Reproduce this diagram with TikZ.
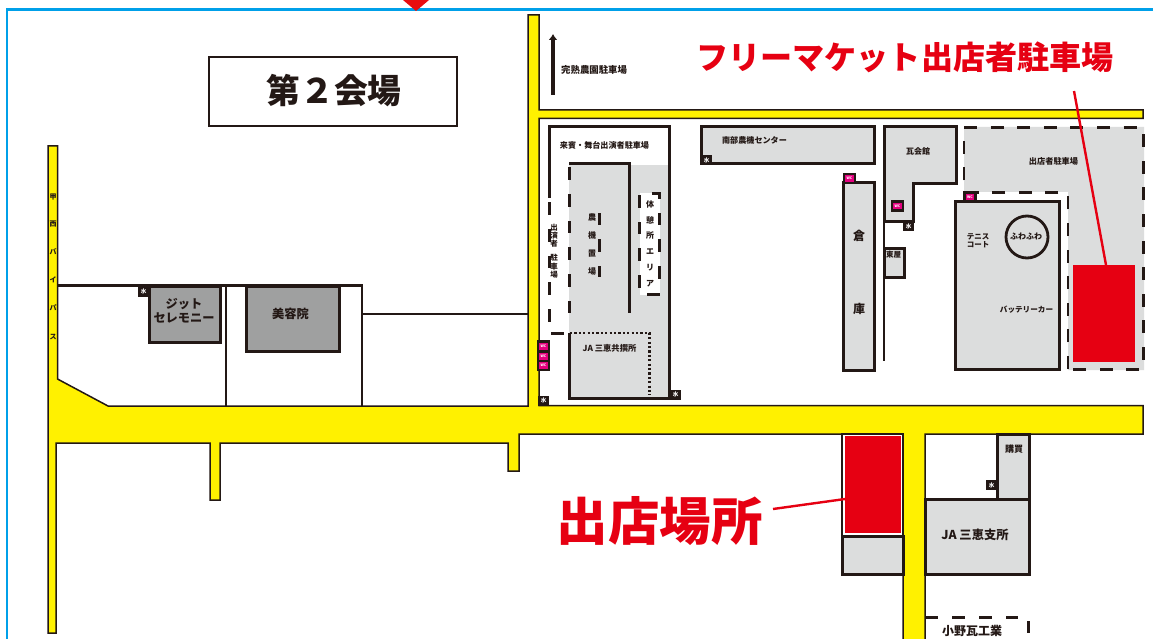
\documentclass[tikz,border=0pt]{standalone}
\usepackage{fontspec}
\usetikzlibrary{arrows.meta}
\setmainfont{Noto Sans CJK JP}
\definecolor{ink}{HTML}{231815}
\definecolor{road}{HTML}{FFF100}
\definecolor{bgray}{HTML}{DCDDDD}
\definecolor{dgray}{HTML}{9FA0A0}
\definecolor{mapred}{HTML}{E60012}
\definecolor{frameblue}{HTML}{00A0E9}
\definecolor{wcpink}{HTML}{E4007F}
\newcommand{\fs}[1]{\fontsize{#1}{#1}\selectfont\bfseries}
\tikzset{
  x=1pt,y=-1pt,
  wall/.style={draw=ink,line width=3pt,line cap=butt,line join=miter},
  thin wall/.style={draw=ink,line width=2.4pt},
  bld/.style={wall,fill=bgray},
  dbld/.style={wall,fill=dgray},
  roadway/.style={draw=ink,line width=1.5pt,fill=road,line join=miter},
  dashwall/.style={draw=ink,line width=2.8pt,dash pattern=on 13pt off 13.6pt},
  lbl/.style={inner sep=0pt,text=ink,align=center},
  mizubox/.style={fill=ink,inner sep=0pt,minimum width=11pt,minimum height=10pt,text=white,font=\fs{5.5}},
  wcbox/.style={fill=wcpink,draw=ink,line width=2.2pt,inner sep=0pt,minimum width=11pt,minimum height=9pt,text=white,font=\fs{3.5}},
}
\begin{document}
\begin{tikzpicture}
\useasboundingbox (0,0) rectangle (1153,639);
\fill[white] (0,0) rectangle (1153,639);
% frame
\draw[frameblue,line width=2.6pt] (7,639) -- (7,9.5) -- (1153,9.5);
\fill[mapred!90!orange] (403,0) -- (429,0) -- (416,11) -- cycle;
% gray grounds
\fill[bgray] (569,165) rectangle (668.5,398);
\path[fill=bgray] (964,127) -- (1144,127) -- (1144,370) -- (1068,370) -- (1068,192) -- (964,192) -- cycle;
% road
\path[roadway] (48,146) -- (57.5,146) -- (57.5,379) -- (108,406) -- (528,406) -- (528,15) -- (539,15) -- (539,110) -- (1143,110) -- (1143,118.5) -- (539,118.5) -- (539,405.5) -- (1143,405.5) -- (1143,434) -- (925,434) -- (925,640) -- (903,640) -- (903,434) -- (519,434) -- (519,471) -- (508,471) -- (508,443) -- (220,443) -- (220,500) -- (210,500) -- (210,443) -- (56,443) -- (56,633) -- (48,633) -- cycle;
% fences at left
\draw[thin wall] (57.5,285.5) -- (361.7,285.5) -- (361.7,406);
\draw[thin wall] (225.7,285.5) -- (225.7,406);
\draw[thin wall] (361.7,313.7) -- (528,313.7);
% buildings left
\path[dbld] (149,286) rectangle (220.5,342);
\path[dbld] (246.7,286) rectangle (339.3,351);
\node[lbl,font=\fs{12.2}] (jit) at (184,311) {ジット\\[2pt]セレモニー};
\node[lbl,font=\fs{12.2}] (biyo) at (290.5,314) {美容院};
\foreach \t/\y [count=\i] in {甲/197,西/224,バ/252,イ/280,パ/308,ス/337}
  \node[lbl,font=\fs{7}] (kosai\i) at (53,\y) {\t};
% title
\path[draw=ink,line width=2.8pt] (209,57) rectangle (457,126);
\node[lbl,font=\fs{33.8}] (title) at (334,91) {第２会場};
% upward arrow
\coordinate (arrowS) at (553,95);
\coordinate (arrowN) at (553,34);
\draw[ink,line width=3.6pt,-{Latex[length=6pt,width=9pt]}] (arrowS) -- (arrowN);
\node[lbl,font=\fs{9.4},anchor=west] (kanjuku) at (561,69.5) {完熟農園駐車場};
% JA parking block
\draw[wall] (549,198) -- (549,127) -- (669,127) -- (669,398) -- (569,398) -- (569,333);
\draw[wall] (569,164) -- (629,164) -- (629,313);
\foreach \a/\b in {202/215,229/242,256/268,282/295,309/322}
  \draw[wall] (549,\a) -- (549,\b);
\draw[wall] (551,333) -- (564,333);
\foreach \a/\b in {167/180,194/207,221/233,247/260,274/287,301/313}
  \draw[wall] (569.5,\a) -- (569.5,\b);
\draw[ink,line width=2.4pt,dash pattern=on 2.2pt off 2.2pt] (570,333) -- (649.5,333) -- (649.5,395);
\fill[white] (640,193) rectangle (660,295);
\foreach \a/\b in {195/208,222/234,248/261,275/288}
  \draw[wall] (639.5,\a) -- (639.5,\b);
\foreach \a/\b in {213/225,239/252,266/279}
  \draw[wall] (659.5,\a) -- (659.5,\b);
\draw[wall] (652,193.5) -- (659.5,193.5) -- (659.5,199);
\draw[wall] (647,294.5) -- (660,294.5);
\foreach \a/\b in {213/225,239/252,266/277}
  \draw[wall] (599.5,\a) -- (599.5,\b);
\node[lbl,font=\fs{8.1}] (raihin) at (604.5,145) {来賓・舞台出演者駐車場};
\foreach \t/\y [count=\i] in {農/217,機/235,置/254,場/272}
  \node[lbl,font=\fs{8}] (noki\i) at (592,\y) {\t};
\foreach \t/\y [count=\i] in {体/204,憩/220,所/236,エ/252,リ/268,ア/284}
  \node[lbl,font=\fs{8}] (kyu\i) at (650,\y) {\t};
\foreach \t/\y [count=\i] in {出/228,演/236,者/244,駐/258,車/267,場/275}
  \node[lbl,font=\fs{7.5}] (en\i) at (554,\y) {\t};
\node[lbl,font=\fs{8.3}] (jakyo) at (609.5,348) {JA 三恵共撰所};
% WC stack
\fill[ink] (537,340) rectangle (550,371);
\foreach \y [count=\i] in {346,356,365}
  \node[fill=wcpink,inner sep=0pt,minimum width=9pt,minimum height=7pt,text=white,font=\fs{3.5}] (wcs\i) at (543.5,\y) {WC};
\node[mizubox] (m1) at (543.5,400.5) {水};
\node[mizubox] (m2) at (675.5,394.5) {水};
% center buildings
\path[bld] (701,127) rectangle (874,164);
\node[lbl,font=\fs{8.1}] (nanbu) at (754.5,140) {南部農機センター};
\node[mizubox] (m3) at (706.5,160.5) {水};
\path[bld] (843,183) rectangle (874,370);
\node[wcbox] (wc1) at (849.5,178.5) {WC};
\node[lbl,font=\fs{12}] (so) at (859,235.5) {倉};
\node[lbl,font=\fs{12}] (ko) at (859,309) {庫};
\path[bld] (884,127) -- (956,127) -- (956,184) -- (913,184) -- (913,221) -- (884,221) -- cycle;
\node[lbl,font=\fs{8}] (kawara) at (918,151) {瓦会館};
\node[wcbox] (wc2) at (897.5,206) {WC};
\node[mizubox] (m4) at (908.5,226) {水};
\draw[thin wall] (884,221) -- (884,361);
\path[bld] (884,248) rectangle (904,277);
\node[lbl,font=\fs{7.5}] (azuma) at (893.5,254.5) {東屋};
% right parking
\draw[dashwall] (964,127.5) -- (1143.5,127.5) -- (1143.5,369.5) -- (1068,369.5);
\draw[dashwall] (1068,369) -- (1068,192.5) -- (964,192.5) -- (964,127.5);
\path[bld] (955,201.5) rectangle (1059,369);
\node[wcbox] (wc3) at (970,197) {WC};
\node[draw=ink,line width=2.8pt,circle,minimum size=42pt,inner sep=0pt] (fuwa) at (1027,237) {};
\node[lbl,font=\fs{8}] (fuwat) at (1026,236) {ふわふわ};
\node[lbl,font=\fs{7.5}] (tennis) at (978,241) {テニス\\[0.5pt]コート};
\node[lbl,font=\fs{7.6}] (batt) at (1026.5,310) {バッテリーカー};
\node[lbl,font=\fs{8.2}] (shutensha) at (1053.5,161.5) {出店者駐車場};
% red parking
\fill[mapred] (1073,265) rectangle (1135,362);
\coordinate (parkred) at (1106,265);
\coordinate (parkend) at (1074,91);
\node[lbl,font=\fs{32.1},text=mapred] (parklabel) at (905,57) {フリーマケット出店者駐車場};
\draw[mapred,line width=2.4pt] (parkend) -- (parkred);
% venue
\path[draw=ink,line width=2pt,fill=white] (842,434) rectangle (903,536);
\fill[mapred] (845,436) rectangle (900.5,533);
\path[bld] (842,536.5) rectangle (903,574);
\coordinate (venred) at (845,499);
\coordinate (venend) at (773,509);
\draw[mapred,line width=2.4pt] (venend) -- (venred);
\node[lbl,font=\fs{51.5},text=mapred] (venue) at (659.5,521) {出店場所};
% lower right
\path[bld] (997,434) rectangle (1029,499);
\path[bld] (925.7,499) rectangle (1029,574);
\node[lbl,font=\fs{9}] (kobai) at (1014,449.5) {購買};
\node[mizubox] (m5) at (991.5,485) {水};
\node[lbl,font=\fs{12.3}] (jashi) at (975,535) {JA 三恵支所};
\foreach \a/\b in {926/938,952/965,979/992,1006/1018}
  \draw[wall] (\a,617) -- (\b,617);
\draw[wall] (1028,621) -- (1028,633);
\node[lbl,font=\fs{12}] (ono) at (972,630.5) {小野瓦工業};
\node[mizubox] (m6) at (143.5,291.5) {水};
\end{tikzpicture}
\end{document}
